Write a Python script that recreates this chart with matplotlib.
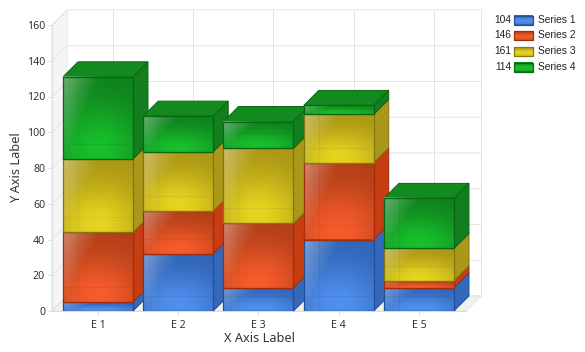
import numpy as np
from matplotlib import pyplot as plt
from matplotlib.patches import Polygon, Rectangle

categories = ['E 1', 'E 2', 'E 3', 'E 4', 'E 5']
series_names = ['Series 1', 'Series 2', 'Series 3', 'Series 4']
series1 = [5, 32, 13, 40, 13]
series2 = [39, 24, 36, 43, 4]
series3 = [41, 33, 42, 27, 18]
series4 = [46, 20, 15, 5, 28]
legend_totals = [104, 146, 161, 114]
y_ticks = [0, 20, 40, 60, 80, 100, 120, 140, 160]

# bright, dark, side, top, edge
palette = [
    ('#5090ee', '#2f63b4', '#3468bb', '#3468bb', '#234f96'),
    ('#f65c2c', '#b03e16', '#c63d12', '#c63d12', '#a22c0c'),
    ('#e6d420', '#a89414', '#ab981a', '#ab981a', '#857610'),
    ('#18c02c', '#0f7f1c', '#127e1e', '#128a20', '#0a6614'),
]

W, H = 585, 352
fig = plt.figure(figsize=(W / 100, H / 100), dpi=100)
ax = fig.add_axes([52 / W, (H - 311) / H, 414 / W, 286 / H])
x_lim = (-0.573, 4.586)
y_lim = (0, 160)
dx = 15 * (x_lim[1] - x_lim[0]) / 414
dy = 15 * (y_lim[1] - y_lim[0]) / 286
bar_w = 0.872
grid_c = '#e4e4e4'
text_c = '#333333'
tick_font = 'Noto Sans'
px = 0.72  # one pixel in points


def rgb(c):
    c = c.lstrip('#')
    return np.array([int(c[i:i + 2], 16) / 255 for i in (0, 2, 4)])


def face_image(bright, dark):
    u, v = np.meshgrid(np.linspace(0, 1, 60), np.linspace(0, 1, 60))
    # glow low in the middle, dark at the top
    glow = np.exp(-((u - 0.5) / 0.65) ** 2 - ((v - 0.9) / 0.55) ** 2)
    img = rgb(dark) + (rgb(bright) - rgb(dark)) * glow[..., None]
    # pale sheen from the top left corner
    sheen = np.clip(1 - (u * 1.9 + v * 1.0), 0, 1) * 0.34
    sheen = sheen + np.clip(0.3 - u, 0, 1) * 0.12
    img = img + (1 - img) * sheen[..., None]
    return img


# walls and floor
ax.add_patch(Polygon([(x_lim[0], 0), (x_lim[0] + dx, dy), (x_lim[0] + dx, 160 + dy), (x_lim[0], 160)],
                     fc='#f5f5f5', ec=grid_c, lw=px, clip_on=False, zorder=0))
ax.add_patch(Polygon([(x_lim[0], 0), (x_lim[1], 0), (x_lim[1] + dx, dy), (x_lim[0] + dx, dy)],
                     fc='#f0f0f0', ec=grid_c, lw=px, clip_on=False, zorder=0))
for t in y_ticks:
    ax.plot([x_lim[0], x_lim[0] + dx, x_lim[1] + dx], [t, t + dy, t + dy], color=grid_c, lw=px,
            clip_on=False, zorder=1)
for i in range(len(categories)):
    ax.plot([i + dx, i + dx], [dy, 160 + dy], color=grid_c, lw=px, clip_on=False, zorder=1)
ax.plot([x_lim[1] + dx, x_lim[1] + dx], [dy, 160 + dy], color=grid_c, lw=px, clip_on=False, zorder=1)

# stacked boxes, left to right and bottom to top
all_series = np.array([series1, series2, series3, series4], dtype=float)
bottoms = np.vstack([np.zeros(5), np.cumsum(all_series, axis=0)[:-1]])
z = 2
for i in range(len(categories)):
    x0 = i - bar_w / 2
    x1 = i + bar_w / 2
    for s in range(len(series_names)):
        bright, dark, side, top, edge = palette[s]
        y0 = bottoms[s, i]
        y1 = y0 + all_series[s, i]
        ax.add_patch(Polygon([(x0, y1), (x1, y1), (x1 + dx, y1 + dy), (x0 + dx, y1 + dy)],
                             fc=top, ec=edge, lw=px, clip_on=False, zorder=z))
        ax.add_patch(Polygon([(x1, y0), (x1 + dx, y0 + dy), (x1 + dx, y1 + dy), (x1, y1)],
                             fc=side, ec=edge, lw=px, clip_on=False, zorder=z + 1))
        ax.bar(i, y1 - y0, bar_w, y0, color=dark, lw=0, zorder=z + 2)
        ax.imshow(face_image(bright, dark), extent=(x0, x1, y0, y1), aspect='auto',
                  interpolation='bilinear', zorder=z + 2)
        # back edges showing faintly through the front
        inner = min(y0 + dy, y1)
        ax.plot([x0 + dx, x0 + dx], [y0, y1], color='black', alpha=0.05, lw=px, zorder=z + 3)
        ax.plot([x0, x1], [inner, inner], color='black', alpha=0.05, lw=px, zorder=z + 3)
        ax.bar(i, y1 - y0, bar_w, y0, fill=False, edgecolor=edge, lw=px * 1.3, zorder=z + 4)
        z += 5

ax.set_xlim(x_lim)
ax.set_ylim(y_lim)
ax.patch.set_visible(False)
for name in ['top', 'right']:
    ax.spines[name].set_visible(False)
for name in ['left', 'bottom']:
    ax.spines[name].set_color('#dcdcdc')
    ax.spines[name].set_linewidth(px)
    ax.spines[name].set_zorder(1)
ax.set_xticks(range(len(categories)), categories, fontsize=7.6, family=tick_font, color=text_c)
ax.set_yticks(y_ticks, [str(t) for t in y_ticks], fontsize=7.6, family=tick_font, color=text_c)
ax.tick_params(axis='both', length=3, width=px, color='#dcdcdc')
ax.tick_params(axis='y', pad=2)
ax.tick_params(axis='x', pad=3.5)
fig.text(259 / W, 1 - 338.5 / H, 'X Axis Label', ha='center', va='center', fontsize=9.2,
         family=tick_font, color=text_c)
fig.text(17 / W, 1 - 167.5 / H, 'Y Axis Label', ha='center', va='center', rotation=90, fontsize=9.2,
         family=tick_font, color=text_c)

# legend, drawn in pixel coordinates
leg = fig.add_axes([0, 0, 1, 1])
leg.set_xlim(0, W)
leg.set_ylim(H, 0)
leg.axis('off')
leg_y = [20, 35.5, 51.5, 67]
for s, name in enumerate(series_names):
    bright, dark, side, top, edge = palette[s]
    yc = leg_y[s]
    leg.add_patch(Rectangle((514, yc - 4.5), 19, 9, fc=dark, lw=0, zorder=1))
    glow = np.array([0.1, 0.4, 0.8, 1.0, 0.9, 0.7])[:, None, None]
    swatch = rgb(dark) + (rgb(bright) - rgb(dark)) * glow
    leg.imshow(swatch, extent=(514, 533, yc + 4.5, yc - 4.5), aspect='auto',
               interpolation='bilinear', zorder=2)
    leg.add_patch(Rectangle((514, yc - 4.5), 19, 9, fill=False, ec=edge, lw=px * 1.2, zorder=3))
    leg.text(511, yc, str(legend_totals[s]), ha='right', va='center', fontsize=7.4,
             family='Liberation Sans', color='#222222')
    leg.text(537.5, yc, name, ha='left', va='center', fontsize=7.4,
             family='Liberation Sans', color='#222222')
leg.set_xlim(0, W)
leg.set_ylim(H, 0)

fig.savefig('out.png', dpi=100)
